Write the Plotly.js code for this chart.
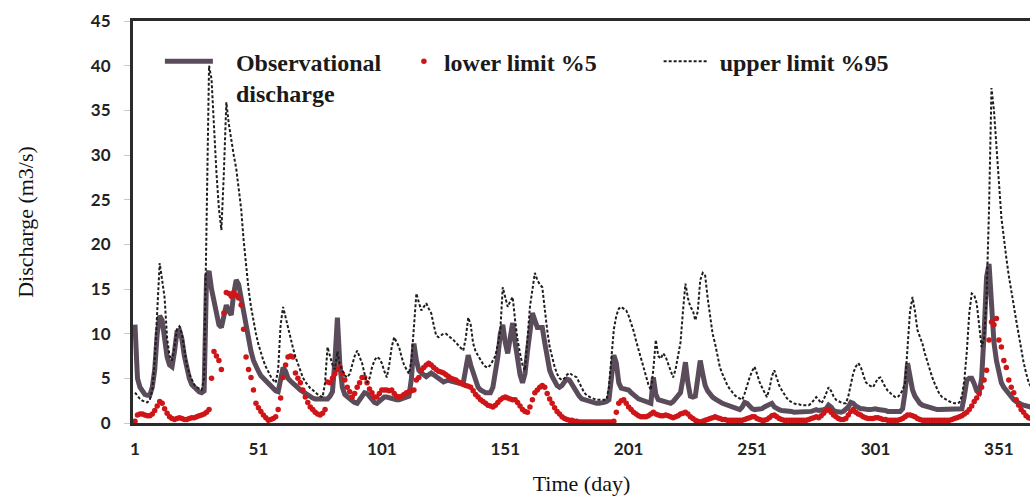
<!DOCTYPE html>
<html>
<head>
<meta charset="utf-8">
<script src="https://cdn.plot.ly/plotly-3.0.1.min.js"></script>
<style>html,body{margin:0;padding:0;background:#fff;}#chart{width:1030px;height:498px;}</style>
</head>
<body>
<div id="chart"></div>
<script>
// Day index (x categories)
const days = Array.from({length: 365}, (_, i) => i + 1);

// Observational discharge (m3/s), one value per day
const observed = [
11,5,4,3.5,3.2,3.1,3.1,4,6,10,
12,11.5,9,7.4,6.5,6.3,8,10.2,10.4,9.4,
7.5,5.9,5,4.3,4,3.7,3.5,3.4,3.6,16.5,
17,15,13.4,12,11,10.7,12,13.2,12.5,12.1,
14.5,16,15.5,14,12,10.5,9,8,7,6.2,
5.8,5.3,5,4.6,4.3,4,3.8,3.6,3.5,5,
6.2,5.8,5,4.7,4.4,4.1,3.9,3.7,3.5,3.3,
3.1,3,2.8,2.7,2.7,2.6,2.6,2.6,2.7,3,
3.5,7,11.8,6.5,4,3.2,2.9,2.7,2.5,2.3,
2.2,2.6,3,3.4,3.3,2.9,2.6,2.3,2.2,2.4,
2.7,2.9,2.9,2.8,2.7,2.6,2.6,2.6,2.7,2.8,
2.9,3,5,8.9,7,5.9,5.6,5.4,5.2,5.4,
5.6,5.4,5.2,5,4.9,4.6,4.7,4.8,4.7,4.6,
4.5,4.4,4.4,4.5,6,7.6,6.5,5.6,4.8,4,
3.7,3.5,3.4,3.4,3.4,4,5.5,7.4,10,11,
9,7.8,9.5,11.2,9,6.7,5.4,4.5,5.5,8,
10.4,12.3,11.5,10.7,10.7,10.7,9,7.2,5.9,5.2,
4.6,4.2,4,4.2,4.6,4.9,4.8,4.3,4,3.5,
3,2.7,2.6,2.5,2.4,2.3,2.3,2.2,2.2,2.2,
2.3,2.4,2.6,5,7.6,6.7,4.5,3.9,3.8,3.7,
3.7,3.4,3.1,2.9,2.7,2.6,2.5,2.4,2.3,2.2,
5.1,3.2,2.6,2.5,2.4,2.3,2.2,2.2,2.4,2.7,
3,3.4,5,6.8,4.5,3,2.9,3,5,7,
5.5,4.2,3.6,3.2,2.9,2.7,2.5,2.3,2.2,2.1,
2,1.9,1.8,1.7,1.6,1.5,1.8,2.3,2.2,1.8,
1.6,1.5,1.5,1.5,1.6,1.8,1.9,2.1,2.2,1.8,
1.6,1.5,1.4,1.4,1.3,1.3,1.3,1.2,1.2,1.2,
1.2,1.2,1.3,1.3,1.3,1.4,1.5,1.4,1.4,1.5,
1.6,2,1.8,1.4,1.3,1.2,1.2,1.3,1.5,1.8,
2.3,2.2,1.9,1.7,1.6,1.6,1.5,1.5,1.5,1.6,
1.6,1.5,1.5,1.4,1.4,1.3,1.3,1.2,1.2,1.2,
1.3,1.6,3.5,6.7,5,3.7,3,2.5,2.2,2,
1.9,1.8,1.7,1.6,1.6,1.5,1.5,1.5,1.5,1.5,
1.5,1.5,1.5,1.5,1.5,1.6,3,4.8,5,5,
4.4,3.6,3.4,5,10,16.3,17.8,13,9,7,
5.5,4.5,4,3.6,3.2,2.9,2.6,2.4,2.2,2.1,
2,1.9,1.8,1.8,1.7
];

// Lower limit 5%
const lower5 = [
0.2,0.9,1,1,0.9,0.8,0.8,1,1.4,1.9,
2.4,2.2,1.6,1.1,0.7,0.5,0.4,0.5,0.6,0.5,
0.4,0.4,0.5,0.6,0.6,0.7,0.8,0.9,1,1.2,
1.5,5,8,7.5,7,6,12.3,14.6,14.5,14.2,
14.6,14.3,14,13.2,10.5,7.4,6,5.1,3.7,2.2,
1.7,1.3,0.9,0.6,0.3,0.4,0.5,0.7,1.5,2.8,
5.1,6.5,7.4,7.5,7.4,5.6,5,4.5,3.7,2.9,
2.3,1.8,1.5,1.2,1,0.9,1.1,1.5,4.6,4.5,
5,5.5,6,6.3,5.5,4.8,4,3.5,2.9,3.3,
4,4.5,5.1,5.1,4.5,3.8,3.4,2.9,2.9,3.3,
3.7,3.7,3.7,3.6,3.7,3.3,3,2.9,3,3.2,
3.4,3.5,3.6,3.7,4.8,5.1,5.9,6.2,6.5,6.7,
6.5,6.2,6,5.8,5.7,5.6,5.4,5.2,5,4.9,
4.8,4.6,4.5,4.3,4.2,4.1,4,3.6,3.2,2.9,
2.6,2.4,2.2,2,1.9,1.8,2,2.3,2.6,2.8,
2.9,2.8,2.7,2.6,2.6,2.3,1.9,1.5,1.3,1.2,
1.8,2.6,3.4,3.7,4,4.2,4,3.3,2.7,2.2,
1.7,1.3,1,0.7,0.5,0.4,0.3,0.3,0.2,0.2,
0.1,0.1,0.1,0.1,0.1,0.1,0.1,0.1,0.1,0.1,
0.1,0.1,0.1,0.1,0.2,1.2,2.2,2.5,2.6,2.2,
1.8,1.5,1.2,1,0.8,0.7,0.7,0.7,0.8,1,
1.2,1,0.9,0.8,0.8,0.9,0.8,0.7,0.6,0.7,
0.8,1,1.1,1.2,1,0.7,0.5,0.3,0.2,0.1,
0.2,0.3,0.4,0.5,0.6,0.7,0.6,0.5,0.4,0.4,
0.3,0.3,0.3,0.3,0.3,0.3,0.3,0.4,0.5,0.6,
0.7,0.7,0.5,0.4,0.3,0.3,0.4,0.6,0.8,0.9,
0.7,0.5,0.4,0.3,0.3,0.3,0.3,0.3,0.3,0.3,
0.3,0.3,0.3,0.4,0.5,0.6,0.7,0.6,0.8,1.1,
1.4,1.5,1.2,0.9,0.7,0.5,0.4,0.4,0.5,0.9,
1.3,1.5,1.2,1,0.9,0.7,0.6,0.5,0.5,0.5,
0.6,0.6,0.5,0.4,0.4,0.3,0.3,0.3,0.3,0.3,
0.4,0.5,0.7,0.9,0.9,0.8,0.7,0.5,0.4,0.3,
0.3,0.3,0.3,0.3,0.3,0.3,0.3,0.3,0.3,0.3,
0.3,0.4,0.5,0.6,0.7,0.8,1,1.2,1.5,1.9,
2.4,2.8,3.3,4,4.8,5.9,9.3,11.3,11,11.7,
9.3,8.5,7,6.2,4.8,4,3.4,2.6,2,1.5,
1.2,0.8,0.6,0.5,0.4
];

// Upper limit 95%
const upper95 = [
3.4,3,2.7,2.5,2.4,2.3,2.6,3.7,7,12,
17.9,16,14,9.5,7.5,7,8.5,10.5,10.8,10,
8,6.5,5.5,4.8,4.3,4,3.8,3.7,5,25,
40,38.5,33,28,24,21.6,28,35.9,33.5,31.5,
30,28.5,26.5,24,20.5,17.5,15,13,11.3,10,
8.8,7.8,7,6.3,5.7,5.2,4.8,4.5,6,11,
13,11.8,10.5,9.3,8.4,7.4,6.6,5.8,5.1,4.6,
4.2,3.9,3.7,3.4,3.2,3,2.9,4.5,8.5,7.5,
6.5,6,8,6.5,5.8,5.3,5.1,5.5,6.5,7.5,
8.1,7.5,6.7,5.5,4.5,5,6.2,7,7.4,7.2,
6.7,5.8,5.1,6.5,8.5,9.6,9.1,8.5,7.4,6.5,
6,5.5,7,11,14.5,13.5,12.6,13,13.4,12.8,
12.3,11,9.8,9.6,9.8,10,10,9.8,9.6,9.3,
9,8.7,8.3,8.1,9.5,11.8,11,8.9,8,7.5,
7,6.6,6.3,6.2,6.5,7,7.5,8.8,10.4,15.2,
14,13,13.6,14.1,11.5,9.3,7.8,6.5,5.9,9,
13,14.9,16.8,16,15.5,15.2,12.5,10.4,8.5,7.2,
6.3,5.5,5,4.8,5,5.4,5.6,5.4,5.2,5.1,
4.5,3.9,3.4,3.1,2.9,2.8,2.7,2.6,2.6,2.6,
2.6,2.6,4,7.5,10.5,12,12.8,13,12.8,12.6,
12,11.2,10.3,9.2,8.2,7.2,6,5,4.3,3.7,
6,9.3,7.5,7.2,7.8,7.4,6.7,5.8,5.1,6,
7.5,9,12.5,15.6,14,13,12.6,11.5,12.5,16,
16.8,16.5,14,11.8,10,8.9,7.5,6.2,5.5,4.8,
4.2,3.8,3.4,3.1,2.9,2.7,2.6,3.3,4.3,5.1,
5.8,6.3,5.5,4.6,4,3.4,2.9,3.8,5.2,5.9,
5,4.2,3.7,3.2,2.8,2.5,2.3,2.2,2.1,2.1,
2,2,2,2,2.2,2.6,2.9,2.6,2.2,2.6,
3.4,4,3.6,3,2.6,2.4,2.3,2.2,2.2,3,
4.5,5.6,6.3,6.7,6.3,5.3,4.6,4.3,4.1,4,
4.5,5,5.1,4.5,4,3.6,3.3,3.1,2.9,2.9,
3.2,3.7,4.5,9,12.5,14.1,12.5,10.4,9.6,8.9,
7.8,6.8,6,5.1,4.4,3.7,3.2,2.9,2.7,2.5,
2.4,2.3,2.2,2.2,2.3,3,4.8,8,12.3,14.5,
14.3,13.4,11,8.5,9.5,14,24,37.5,35,30.5,
27,23,20.5,18.5,16.5,15,13.2,11.5,9.8,8.2,
6.8,5.6,4.6,4,3.6
];

const xTicks = [1, 51, 101, 151, 201, 251, 301, 351];
const yTicks = [0, 5, 10, 15, 20, 25, 30, 35, 40, 45];
const seriesNames = ['\u00a0\u00a0\u00a0Observational<br>\u00a0\u00a0\u00a0discharge', 'lower limit %5', '\u00a0upper limit %95'];

const legendFont = {family: 'Liberation Serif', size: 24, color: '#1a1a1a', weight: 'bold'};

const traces = [
  {x: days, y: observed, name: seriesNames[0], type: 'scatter', mode: 'lines',
   line: {color: '#5b4c5b', width: 5}, legend: 'legend'},
  {x: days, y: lower5, name: seriesNames[1], type: 'scatter', mode: 'markers',
   marker: {color: '#cf1518', size: 5.5, line: {width: 0}}, legend: 'legend2'},
  {x: days, y: upper95, name: seriesNames[2], type: 'scatter', mode: 'lines',
   line: {color: '#1e1e1e', width: 2, dash: '3px,2px'}, legend: 'legend3'}
];

const legBase = {orientation: 'h', xanchor: 'left', yanchor: 'top', bgcolor: 'rgba(0,0,0,0)',
  borderwidth: 0, font: legendFont, valign: 'top', itemclick: false};

const layout = {
  width: 1030, height: 498,
  margin: {l: 133, r: 0, t: 21, b: 75},
  paper_bgcolor: '#ffffff', plot_bgcolor: '#ffffff',
  showlegend: true,
  legend: Object.assign({}, legBase, {x: 0.03, y: 0.955, itemwidth: 48}),
  legend2: Object.assign({}, legBase, {x: 0.302, y: 0.955, itemwidth: 30}),
  legend3: Object.assign({}, legBase, {x: 0.586, y: 0.955, itemwidth: 45}),
  xaxis: {
    range: [0.19, 363.6], tickvals: xTicks, ticktext: xTicks.map(String),
    showgrid: false, zeroline: false, showline: true, linecolor: '#2b2b2b', linewidth: 3,
    mirror: true, ticks: '', ticklabelstandoff: 9,
    tickfont: {family: 'Lato', size: 17, color: '#222', weight: 'bold'},
    title: {text: 'Time (day)', font: {family: 'Liberation Serif', size: 22, color: '#111'}, standoff: 18}
  },
  yaxis: {
    range: [0, 45], tickvals: yTicks, ticktext: yTicks.map(String),
    showgrid: false, zeroline: false, showline: true, linecolor: '#2b2b2b', linewidth: 3,
    mirror: false, ticks: 'outside', ticklen: 6, tickcolor: '#c8c8c8', tickwidth: 1,
    ticklabelstandoff: 10,
    tickfont: {family: 'Lato', size: 17, color: '#222', weight: 'bold'},
    title: {text: 'Discharge (m3/s)', font: {family: 'Liberation Serif', size: 22, color: '#111'}, standoff: 52}
  }
};

Plotly.newPlot('chart', traces, layout, {displayModeBar: false, staticPlot: true});
</script>
</body>
</html>
